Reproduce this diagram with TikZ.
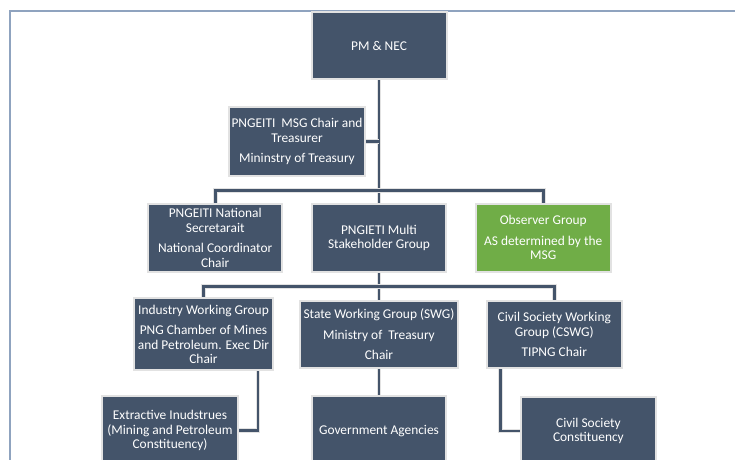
\documentclass[tikz,border=0pt]{standalone}
\usepackage{fontspec}
\setmainfont{Carlito}
\usetikzlibrary{backgrounds}
\definecolor{boxfill}{HTML}{44546A}
\definecolor{boxedge}{HTML}{E2E2E2}
\definecolor{obsfill}{HTML}{70AD47}
\definecolor{framec}{HTML}{8FA3BF}
\tikzset{
  orgbox/.style={draw=boxedge, line width=2pt, fill=boxfill, text=white, align=center,
    inner sep=0pt, font=\fontsize{13.4}{14.5}\selectfont},
  greenbox/.style={orgbox, fill=obsfill},
  link/.style={draw=boxfill, line width=2.6pt, preaction={draw=boxedge, line width=4.6pt}}
}
\newcommand{\pgap}{\\[6pt]}
\begin{document}
\begin{tikzpicture}[x=1pt,y=-1pt]
\useasboundingbox (0,0) rectangle (735,459);
\clip (0,0) rectangle (735,459);

% nodes
\node[orgbox, minimum width=135pt, minimum height=67.6pt] (pm) at (379,45.5) {PM \& NEC};
\node[orgbox, minimum width=136.6pt, minimum height=68.7pt] (chair) at (297,141.7)
  {PNGEITI\ \ MSG Chair and\\Treasurer\pgap Mininstry of Treasury};
\node[orgbox, minimum width=134.3pt, minimum height=67.7pt] (sec) at (215.2,237.8)
  {PNGEITI National\\Secretarait\pgap National Coordinator\\Chair};
\node[orgbox, minimum width=134.7pt, minimum height=67.7pt] (msg) at (379,237.8)
  {PNGIETI Multi\\Stakeholder Group};
\node[greenbox, minimum width=134.7pt, minimum height=67.7pt] (obs) at (543.2,237.8)
  {Observer Group\pgap AS determined by the\\MSG};
\node[orgbox, minimum width=139pt, minimum height=72pt] (ind) at (203.5,334.3)
  {Industry Working Group\pgap PNG Chamber of Mines\\and Petroleum. Exec Dir\\Chair};
\node[orgbox, minimum width=158pt, minimum height=67.6pt] (swg) at (379,334.5)
  {State Working Group (SWG)\pgap Ministry of\ \ Treasury\pgap Chair};
\node[orgbox, minimum width=135.4pt, minimum height=67pt] (cswg) at (554.3,334.8)
  {Civil Society Working\\Group (CSWG)\pgap TIPNG Chair};
\node[orgbox, minimum width=135.8pt, minimum height=68.4pt] (ext) at (170,430.5)
  {Extractive Inudstrues\\(Mining and Petroleum\\Constituency)};
\node[orgbox, minimum width=134.7pt, minimum height=70pt] (gov) at (379,431)
  {Government Agencies};
\node[orgbox, minimum width=135.2pt, minimum height=68pt] (csc) at (588.4,431)
  {Civil Society\\Constituency};

\coordinate (b1) at (379,190.7);
\coordinate (b2) at (379,286.7);

\begin{scope}[on background layer]
\fill[white] (0,0) rectangle (735,459);
\draw[framec, line width=2pt] (9.5,10.7) rectangle (800,520);
% connectors
\draw[link] (pm.south) -- (msg.north);
\draw[link] (chair.east) -- (chair.east -| pm.south);
\draw[link] (sec.north) |- (b1) -| (obs.north);
\draw[link] (msg.south) -- (swg.north);
\draw[link] (ind.north) |- (b2) -| (cswg.north);
\draw[link] (swg.south) -- (gov.north);
\draw[link] ([xshift=54.3pt]ind.south) |- (ext.east);
\draw[link] ([xshift=-53.6pt]cswg.south) |- (csc.west);
\end{scope}
\end{tikzpicture}
\end{document}
